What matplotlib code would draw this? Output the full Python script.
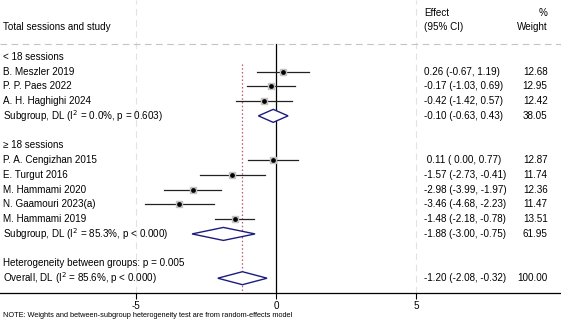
import matplotlib.pyplot as plt

plt.rcParams["font.family"] = ["Liberation Sans", "DejaVu Sans"]

group1 = ["B. Meszler 2019", "P. P. Paes 2022", "A. H. Haghighi 2024"]
eff1 = [0.26, -0.17, -0.42]
lo1 = [-0.67, -1.03, -1.42]
hi1 = [1.19, 0.69, 0.57]
wt1 = [12.68, 12.95, 12.42]
ci1 = ["0.26 (-0.67, 1.19)", "-0.17 (-1.03, 0.69)", "-0.42 (-1.42, 0.57)"]

group2 = ["P. A. Cengizhan 2015", "E. Turgut 2016", "M. Hammami 2020",
          "N. Gaamouri 2023(a)", "M. Hammami 2019"]
eff2 = [-0.11, -1.57, -2.98, -3.46, -1.48]
lo2 = [-0.99, -2.73, -3.99, -4.68, -2.18]
hi2 = [0.77, -0.41, -1.97, -2.23, -0.78]
wt2 = [12.87, 11.74, 12.36, 11.47, 13.51]
ci2 = [" 0.11 ( 0.00, 0.77)", "-1.57 (-2.73, -0.41)", "-2.98 (-3.99, -1.97)",
       "-3.46 (-4.68, -2.23)", "-1.48 (-2.18, -0.78)"]

sub1 = (-0.10, -0.63, 0.43, 38.05, "-0.10 (-0.63, 0.43)")
sub2 = (-1.88, -3.00, -0.75, 61.95, "-1.88 (-3.00, -0.75)")
overall = (-1.20, -2.08, -0.32, 100.00, "-1.20 (-2.08, -0.32)")

fig = plt.figure(figsize=(5.61, 3.23), dpi=100)
ax = fig.add_axes([0, 0.093, 1, 0.907])
ax.set_xlim(-9.86, 10.18)
ax.set_ylim(16, -3.85)

fs = 7.1
navy = "#1c1c80"
xl, xe, xw = -9.75, 5.3, 9.7

# header
ax.text(xe, -3, "Effect", fontsize=fs, va="center")
ax.text(xe, -2, "(95% CI)", fontsize=fs, va="center")
ax.text(xw, -3, "%", fontsize=fs, va="center", ha="right")
ax.text(xw, -2, "Weight", fontsize=fs, va="center", ha="right")
ax.text(xl, -2, "Total sessions and study", fontsize=fs, va="center")
ax.axhline(-0.9, color="#c4c4c4", lw=0.8, ls=(0, (6, 4)))
for gx in (-5, 5):
    ax.axvline(gx, color="#e2e2e2", lw=0.8, ls=(0, (6, 4)), zorder=0)

ax.plot([0, 0], [-0.9, 16], color="black", lw=0.9)
ax.plot([overall[0]] * 2, [0.5, 16], color="#c05868", lw=0.9, ls=(0, (1.2, 1.8)))


def study_rows(names, eff, lo, hi, wt, ci, start):
    for i in range(len(names)):
        y = start + i
        ax.text(xl, y, names[i], fontsize=fs, va="center")
        ax.text(xe, y, ci[i], fontsize=fs, va="center")
        ax.text(xw, y, f"{wt[i]:.2f}", fontsize=fs, va="center", ha="right")
        ax.plot([lo[i], hi[i]], [y, y], color="#222222", lw=0.9)
        ax.plot(eff[i], y, marker="s", ms=wt[i] / 3.0, color="#c2c2c2", mec="#c2c2c2")
        ax.plot(eff[i], y, marker="o", ms=2.4, color="black")


def diamond(row, y, label):
    e, l, h, w, txt = row
    ax.fill([l, e, h, e, l], [y, y - 0.44, y, y + 0.44, y], facecolor="white",
            edgecolor=navy, lw=1.0, zorder=3)
    ax.text(xl, y, label, fontsize=fs, va="center")
    ax.text(xe, y, txt, fontsize=fs, va="center")
    ax.text(xw, y, f"{w:.2f}", fontsize=fs, va="center", ha="right")


ax.text(xl, 0, "< 18 sessions", fontsize=fs, va="center")
study_rows(group1, eff1, lo1, hi1, wt1, ci1, 1)
diamond(sub1, 4, "Subgroup, DL (I$^2$ = 0.0%, p = 0.603)")

ax.text(xl, 6, "\u2265 18 sessions", fontsize=fs, va="center")
study_rows(group2, eff2, lo2, hi2, wt2, ci2, 7)
diamond(sub2, 12, "Subgroup, DL (I$^2$ = 85.3%, p < 0.000)")

ax.text(xl, 14, "Heterogeneity between groups: p = 0.005", fontsize=fs, va="center")
diamond(overall, 15, "Overall, DL (I$^2$ = 85.6%, p < 0.000)")

for s in ("top", "left", "right"):
    ax.spines[s].set_visible(False)
ax.spines["bottom"].set_linewidth(0.9)
ax.set_yticks([])
ax.set_xticks([-5, 0, 5])
ax.set_xticklabels(["-5", "0", "5"], fontsize=fs)
ax.tick_params(axis="x", length=4, width=0.8, pad=1.5)

fig.text(0.005, 0.012, "NOTE: Weights and between-subgroup heterogeneity test are from random-effects model",
         fontsize=5.3, va="bottom")

fig.savefig("out.png", dpi=100)
